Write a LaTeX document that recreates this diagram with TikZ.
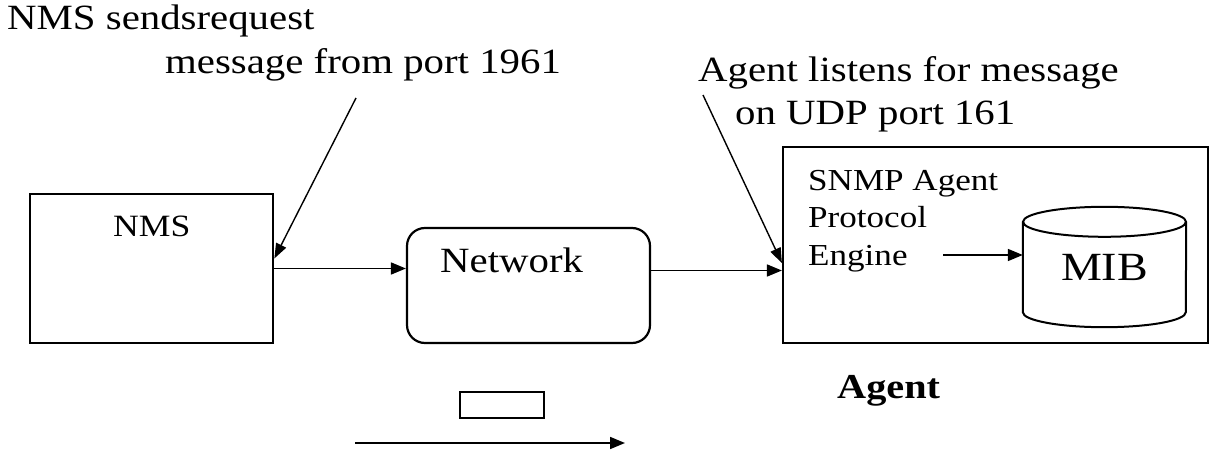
\documentclass[tikz,border=0pt]{standalone}
\usepackage{fontspec}
\setmainfont{Liberation Serif}[FakeStretch=1.15]
\usetikzlibrary{arrows.meta,positioning}

\tikzset{
  box/.style={draw, line width=2.2pt, inner sep=0pt},
  lbl/.style={anchor=base west, inner sep=0pt},
  arr/.style={line width=1.7pt, -{Triangle[length=15pt,width=12pt]}},
  pin/.style={line width=1.4pt, -{Triangle[length=15pt,width=11pt]}},
}

\begin{document}
\begin{tikzpicture}[x=1pt,y=-1pt]
	\useasboundingbox (0,0) rectangle (1210,454);

	% call-outs
	\node[lbl, font=\fontsize{35.5}{40}\selectfont] (req1) at (7,30) {NMS sendsrequest};
	\node[lbl, font=\fontsize{35.5}{40}\selectfont] (req2) at (165,74) {message from port 1961};
	\node[lbl, font=\fontsize{35.5}{40}\selectfont] (lis1) at (698,82) {Agent listens for message};
	\node[lbl, font=\fontsize{35.5}{40}\selectfont] (lis2) at (735,125) {on UDP port 161};
	\coordinate (reqfoot) at (356,98);
	\coordinate (lisfoot) at (703,95);

	% boxes
	\node[box, line width=2.7pt, minimum width=243pt, minimum height=149pt] (nms) at (151.5,268.5) {};
	\node[lbl, font=\fontsize{31}{40}\selectfont] (nmstxt) at (113,237) {NMS};
	\node[box, rounded corners=18pt, minimum width=243pt, minimum height=115pt] (net) at (528.5,285.5) {};
	\node[lbl, font=\fontsize{35.5}{40}\selectfont] (nettxt) at (440,273) {Network};
	\node[box, minimum width=425pt, minimum height=196pt] (agent) at (995.5,245) {};
	\node[anchor=north west, inner sep=0pt, align=left, font=\fontsize{30.5}{37.5}\selectfont] (engine) at (808,170) {SNMP Agent\\Protocol\\Engine};
	\node[minimum width=163pt, minimum height=120pt, inner sep=0pt, font=\fontsize{40}{42}\selectfont] (mib) at (1104.5,267) {MIB};
	\node[lbl, font=\fontsize{35}{40}\selectfont\bfseries] (agenttxt) at (837,398) {Agent};

	% MIB cylinder
	\draw[line width=2pt] ([yshift=-15pt]mib.north west) -- ([yshift=15pt]mib.south west)
		arc[start angle=180, end angle=360, x radius=81.5pt, y radius=15pt] -- ([yshift=-15pt]mib.north east);
	\draw[line width=2pt] ([yshift=-15pt]mib.north) ellipse [x radius=81.5pt, y radius=15pt];

	% flow
	\draw[arr] (nms.east) -- (nms.east -| net.west);
	\draw[arr] ([yshift=15pt]net.east) -- ([yshift=15pt]net.east -| agent.west);
	\coordinate (engout) at (943,255);
	\draw[arr] (engout) -- (engout -| mib.west);
	\draw[pin] (reqfoot) -- ([yshift=10pt]nms.east);
	\draw[pin] (lisfoot) -- ([yshift=-18pt]agent.west);

	% legend
	\node[box, minimum width=84pt, minimum height=26pt] (legbox) at (502,405) {};
	\coordinate (legfrom) at (355,443);
	\coordinate (legto) at (625,443);
	\draw[arr] (legfrom) -- (legto);
\end{tikzpicture}
\end{document}
